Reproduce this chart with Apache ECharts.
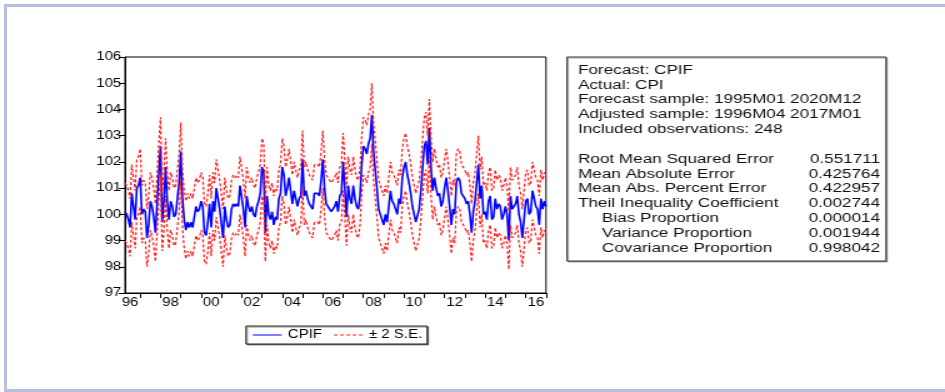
<!DOCTYPE html>
<html>
<head>
<meta charset="utf-8">
<script src="https://cdn.jsdelivr.net/npm/echarts@6/dist/echarts.min.js"></script>
<style>
  html, body { margin: 0; padding: 0; background: #fff; overflow: hidden; }
  #frame {
    position: absolute; left: 4px; top: 4px; width: 960px; height: 382px;
    border: 3px solid #b6c0dc; border-right: none;
  }
  /* the EViews output is a horizontally stretched screenshot, so stretch the chart too */
  #chart {
    position: absolute; left: 0; top: 0; width: 756px; height: 392px;
    transform: scaleX(1.25); transform-origin: 0 0;
  }
</style>
</head>
<body>
<div id="frame"></div>
<div id="chart"></div>
<script>
// monthly forecast CPIF, 1996M04 .. 2017M01
const cpif = [
  100.1, 100.0, 99.8, 99.5, 100.8, 100.3, 99.8, 101.0, 101.1, 101.4,
  100.0, 100.2, 100.1, 99.1, 99.6, 100.5, 100.3, 99.9, 99.3, 100.4,
  101.6, 102.6, 99.7, 100.5, 101.8, 100.5, 99.8, 100.5, 100.3, 99.9,
  100.0, 100.0, 101.2, 102.4, 100.6, 99.8, 99.4, 99.7, 99.5, 99.7,
  99.5, 99.5, 100.3, 100.1, 100.2, 100.5, 100.3, 99.3, 99.2, 99.7,
  100.4, 99.5, 100.5, 100.1, 101.0, 100.6, 100.2, 100.2, 99.1, 100.3,
  99.8, 99.5, 99.6, 100.2, 100.4, 100.3, 100.4, 100.3, 101.1, 101.1,
  100.2, 99.5, 100.7, 100.3, 100.1, 100.3, 100.0, 99.9, 100.3, 100.5,
  100.8, 101.8, 101.6, 99.3, 100.7, 100.0, 99.8, 100.1, 99.6, 99.9,
  99.8, 100.6, 100.8, 101.8, 101.5, 100.7, 101.0, 101.4, 100.9, 100.4,
  100.9, 100.6, 100.3, 100.6, 100.7, 102.1, 100.7, 100.9, 100.6, 100.4,
  100.3, 100.2, 100.8, 100.8, 100.8, 100.7, 101.3, 102.1, 101.0, 100.4,
  100.3, 100.2, 100.1, 100.2, 100.3, 100.5, 100.1, 100.7, 100.8, 102.0,
  101.0, 99.9, 101.1, 100.6, 100.4, 101.1, 100.6, 100.3, 100.2, 100.7,
  101.9, 102.6, 102.5, 102.3, 102.7, 102.9, 103.8, 102.4, 101.7, 101.0,
  100.2, 100.0, 99.8, 99.6, 100.0, 99.7, 100.3, 100.9, 100.5, 100.4,
  100.2, 100.0, 100.6, 100.4, 101.4, 101.8, 102.0, 101.5, 101.2, 100.8,
  100.3, 100.0, 99.7, 99.7, 100.2, 100.9, 100.9, 102.6, 102.8, 101.9,
  103.3, 101.8, 100.9, 101.4, 101.0, 100.7, 100.8, 100.3, 100.5, 101.0,
  101.4, 100.9, 100.3, 99.6, 100.2, 100.0, 101.2, 101.4, 101.3, 100.8,
  100.7, 100.6, 100.4, 100.5, 100.0, 99.3, 100.1, 100.5, 101.2, 101.9,
  100.6, 101.1, 100.0, 100.1, 99.8, 100.5, 100.7, 99.8, 99.9, 100.6,
  100.2, 100.4, 100.3, 99.8, 100.0, 100.3, 100.0, 99.0, 100.7, 100.2,
  100.3, 100.4, 100.7, 100.0, 99.7, 99.1, 99.8, 100.5, 100.6, 100.0,
  100.1, 100.9, 100.9, 100.3, 100.2, 99.6, 100.6, 100.2, 100.5, 100.3
];

// upper band (+2 S.E.)
const upper = [
  101.2, 101.1, 100.9, 100.6, 101.9, 101.4, 100.9, 102.1, 102.2, 102.5,
  101.1, 101.3, 101.2, 100.2, 100.7, 101.6, 101.4, 101.0, 100.4, 101.5,
  102.7, 103.7, 100.8, 101.6, 102.9, 101.6, 100.9, 101.6, 101.4, 101.0,
  101.1, 101.1, 102.3, 103.5, 101.7, 100.9, 100.5, 100.8, 100.6, 100.8,
  100.6, 100.6, 101.4, 101.2, 101.3, 101.6, 101.4, 100.4, 100.3, 100.8,
  101.5, 100.6, 101.6, 101.2, 102.1, 101.7, 101.3, 101.3, 100.2, 101.4,
  100.9, 100.6, 100.7, 101.3, 101.5, 101.4, 101.5, 101.4, 102.2, 102.2,
  101.3, 100.6, 101.8, 101.4, 101.2, 101.4, 101.1, 101.0, 101.4, 101.6,
  101.9, 102.9, 102.7, 100.4, 101.8, 101.1, 100.9, 101.2, 100.7, 101.0,
  100.9, 101.7, 101.9, 102.9, 102.6, 101.8, 102.1, 102.5, 102.0, 101.5,
  102.0, 101.7, 101.4, 101.7, 101.8, 103.2, 101.8, 102.0, 101.7, 101.5,
  101.4, 101.3, 101.9, 101.9, 101.9, 101.8, 102.4, 103.2, 102.1, 101.5,
  101.4, 101.3, 101.2, 101.3, 101.4, 101.6, 101.2, 101.8, 101.9, 103.1,
  102.1, 101.0, 102.2, 101.7, 101.5, 102.2, 101.7, 101.4, 101.3, 101.8,
  103.0, 103.7, 103.6, 103.4, 103.8, 104.0, 105.0, 103.5, 102.8, 102.1,
  101.3, 101.1, 100.9, 100.7, 101.1, 100.8, 101.4, 102.0, 101.6, 101.5,
  101.3, 101.1, 101.7, 101.5, 102.5, 102.9, 103.1, 102.6, 102.3, 101.9,
  101.4, 101.1, 100.8, 100.8, 101.3, 102.0, 102.0, 103.7, 103.9, 103.0,
  104.4, 102.9, 102.0, 102.5, 102.1, 101.8, 101.9, 101.4, 101.6, 102.1,
  102.5, 102.0, 101.4, 100.7, 101.3, 101.1, 102.3, 102.5, 102.4, 101.9,
  101.8, 101.7, 101.5, 101.6, 101.1, 100.4, 101.2, 101.6, 102.3, 103.0,
  101.7, 102.2, 101.1, 101.2, 100.9, 101.6, 101.8, 100.9, 101.0, 101.7,
  101.3, 101.5, 101.4, 100.9, 101.1, 101.4, 101.1, 100.1, 101.8, 101.3,
  101.4, 101.5, 101.8, 101.1, 100.8, 100.2, 100.9, 101.6, 101.7, 101.1,
  101.2, 102.0, 102.0, 101.4, 101.3, 100.7, 101.7, 101.3, 101.6, 101.4
];

// lower band (-2 S.E.)
const lower = [
  99.0, 98.9, 98.7, 98.4, 99.7, 99.2, 98.7, 99.9, 100.0, 100.3,
  98.9, 99.1, 99.0, 98.0, 98.5, 99.4, 99.2, 98.8, 98.2, 99.3,
  100.5, 101.5, 98.6, 99.4, 100.7, 99.4, 98.7, 99.4, 99.2, 98.8,
  98.9, 98.9, 100.1, 101.3, 99.5, 98.7, 98.3, 98.6, 98.4, 98.6,
  98.4, 98.4, 99.2, 99.0, 99.1, 99.4, 99.2, 98.2, 98.1, 98.6,
  99.3, 98.4, 99.4, 99.0, 99.9, 99.5, 99.1, 99.1, 98.0, 99.2,
  98.7, 98.4, 98.5, 99.1, 99.3, 99.2, 99.3, 99.2, 100.0, 100.0,
  99.1, 98.4, 99.6, 99.2, 99.0, 99.2, 98.9, 98.8, 99.2, 99.4,
  99.7, 100.7, 100.5, 98.2, 99.6, 98.9, 98.7, 99.0, 98.5, 98.8,
  98.7, 99.5, 99.7, 100.7, 100.4, 99.6, 99.9, 100.3, 99.8, 99.3,
  99.8, 99.5, 99.2, 99.5, 99.6, 101.0, 99.6, 99.8, 99.5, 99.3,
  99.2, 99.1, 99.7, 99.7, 99.7, 99.6, 100.2, 101.0, 99.9, 99.3,
  99.2, 99.1, 99.0, 99.1, 99.2, 99.4, 99.0, 99.6, 99.7, 100.9,
  99.9, 98.8, 100.0, 99.5, 99.3, 100.0, 99.5, 99.2, 99.1, 99.6,
  100.8, 101.5, 101.4, 101.2, 101.6, 101.8, 102.7, 101.3, 100.6, 99.9,
  99.1, 98.9, 98.7, 98.5, 98.9, 98.6, 99.2, 99.8, 99.4, 99.3,
  99.1, 98.9, 99.5, 99.3, 100.3, 100.7, 100.9, 100.4, 100.1, 99.7,
  99.2, 98.9, 98.6, 98.6, 99.1, 99.8, 99.8, 101.5, 101.7, 100.8,
  102.2, 100.7, 99.8, 100.3, 99.9, 99.6, 99.7, 99.2, 99.4, 99.9,
  100.3, 99.8, 99.2, 98.5, 99.1, 98.9, 100.1, 100.3, 100.2, 99.7,
  99.6, 99.5, 99.3, 99.4, 98.9, 98.2, 99.0, 99.4, 100.1, 100.8,
  99.5, 100.0, 98.9, 99.0, 98.7, 99.4, 99.6, 98.7, 98.8, 99.5,
  99.1, 99.3, 99.2, 98.7, 98.9, 99.2, 98.9, 97.9, 99.6, 99.1,
  99.2, 99.3, 99.6, 98.9, 98.6, 98.0, 98.7, 99.4, 99.5, 98.9,
  99.0, 99.8, 99.8, 99.2, 99.1, 98.5, 99.5, 99.1, 99.4, 99.2
];

const yMin = 97;
const yMax = 106;

const headerLines = [
  'Forecast: CPIF',
  'Actual: CPI',
  'Forecast sample: 1995M01 2020M12',
  'Adjusted sample: 1996M04 2017M01',
  'Included observations: 248'
];
const statNames = [
  'Root Mean Squared Error',
  'Mean Absolute Error',
  'Mean Abs. Percent Error',
  'Theil Inequality Coefficient',
  'Bias Proportion',
  'Variance Proportion',
  'Covariance Proportion'
];
const statIndented = [false, false, false, false, true, true, true];
const statValues = ['0.551711', '0.425764', '0.422957', '0.002744', '0.000014', '0.001944', '0.998042'];

// month labels 1996M04 .. 2017M01
const months = [];
for (let y = 1996, m = 4; months.length < cpif.length; ) {
  months.push(y + 'M' + String(m).padStart(2, '0'));
  m++;
  if (m > 12) { m = 1; y++; }
}

const FONT = '"Liberation Sans", Arial, sans-serif';

// stats box (chart coordinates, before the horizontal stretch)
const box = { x: 453.6, y: 57, w: 255.2, h: 204 };
const rowY0 = 70;
const rowGap = 14.83;
const textLeft = 462.4;
const textIndent = 481.6;
const numRight = 704;

const graphic = [{
  type: 'rect',
  shape: { x: box.x, y: box.y, width: box.w, height: box.h },
  style: {
    fill: '#fff', stroke: '#333', lineWidth: 1,
    shadowColor: 'rgba(0,0,0,0.35)', shadowOffsetX: 1, shadowOffsetY: 1
  },
  silent: true
}];

function textEl(str, x, y, align) {
  return {
    type: 'text', x: x, y: y, silent: true,
    style: {
      text: str, fill: '#111', fontSize: 13.7, fontFamily: FONT,
      textAlign: align, textVerticalAlign: 'middle'
    }
  };
}

headerLines.forEach((line, i) => {
  graphic.push(textEl(line, textLeft, rowY0 + i * rowGap, 'left'));
});
statNames.forEach((name, i) => {
  const y = rowY0 + (i + headerLines.length + 1) * rowGap;
  graphic.push(textEl(name, statIndented[i] ? textIndent : textLeft, y, 'left'));
  graphic.push(textEl(statValues[i], numRight, y, 'right'));
});

const chart = echarts.init(document.getElementById('chart'), null, { renderer: 'canvas' });

const bandStyle = { color: '#ff1a1a', width: 1.2, type: [3, 2] };

const option = {
  animation: false,
  backgroundColor: 'transparent',
  grid: {
    left: 100, right: 319.2, top: 57, bottom: 99,
    show: true, borderColor: '#000', borderWidth: 1
  },
  legend: {
    left: 196.8, top: 326,
    data: ['CPIF', '± 2 S.E.'],
    itemWidth: 23, itemHeight: 10, itemGap: 9,
    // hide the marker dot, keep only the line sample
    itemStyle: { opacity: 0 },
    lineStyle: { width: 1 },
    padding: [3, 4, 3, 5],
    borderColor: '#222', borderWidth: 1,
    backgroundColor: '#fff',
    shadowColor: 'rgba(0,0,0,0.45)', shadowOffsetX: 1, shadowOffsetY: 1, shadowBlur: 0,
    textStyle: { color: '#000', fontSize: 12, fontFamily: FONT },
    selectedMode: false
  },
  xAxis: {
    type: 'category',
    data: months,
    boundaryGap: false,
    axisLine: { lineStyle: { color: '#000', width: 1 } },
    axisTick: {
      interval: (i, v) => v.endsWith('M01'),
      length: 5,
      lineStyle: { color: '#000' }
    },
    axisLabel: {
      interval: (i, v) => v.endsWith('M07') && Number(v.slice(0, 4)) % 2 === 0,
      formatter: (v) => v.slice(2, 4),
      color: '#000', fontSize: 12, fontFamily: FONT, margin: 4
    },
    splitLine: { show: false }
  },
  yAxis: {
    type: 'value',
    min: yMin, max: yMax, interval: 1,
    axisLine: { show: true, lineStyle: { color: '#000', width: 1 } },
    axisTick: { show: true, length: 5, lineStyle: { color: '#000' } },
    axisLabel: { color: '#000', fontSize: 12, fontFamily: FONT, margin: 3 },
    splitLine: { show: false }
  },
  series: [
    {
      name: 'CPIF', type: 'line', data: cpif,
      symbol: 'none', silent: true,
      lineStyle: { color: '#0000ff', width: 1.6 },
      itemStyle: { color: '#0000ff' }
    },
    {
      name: '± 2 S.E.', type: 'line', data: upper,
      symbol: 'none', silent: true,
      lineStyle: bandStyle, itemStyle: { color: '#ff1a1a' }
    },
    {
      name: '± 2 S.E.', type: 'line', data: lower,
      symbol: 'none', silent: true,
      lineStyle: bandStyle, itemStyle: { color: '#ff1a1a' }
    }
  ],
  graphic: graphic
};

chart.setOption(option);
</script>
</body>
</html>
